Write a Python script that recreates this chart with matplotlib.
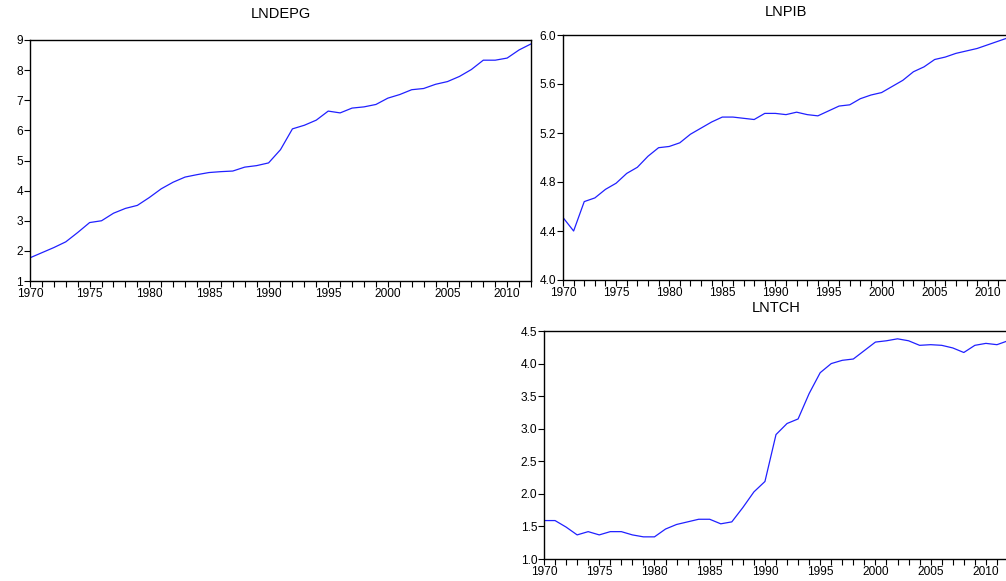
import numpy as np
import matplotlib.pyplot as plt
from matplotlib.ticker import MultipleLocator, FormatStrFormatter

plt.rcParams['font.family'] = ['Liberation Sans', 'DejaVu Sans']

years = list(range(1970, 2013))

lndepg = [1.77, 1.94, 2.11, 2.30, 2.61, 2.94, 3.00, 3.25, 3.41, 3.51,
          3.77, 4.06, 4.28, 4.45, 4.53, 4.60, 4.63, 4.65, 4.78, 4.83,
          4.92, 5.36, 6.05, 6.17, 6.34, 6.64, 6.58, 6.74, 6.78, 6.86,
          7.07, 7.19, 7.35, 7.39, 7.53, 7.62, 7.79, 8.02, 8.33, 8.33,
          8.40, 8.67, 8.87]

lnpib = [4.51, 4.40, 4.64, 4.67, 4.74, 4.79, 4.87, 4.92, 5.01, 5.08,
         5.09, 5.12, 5.19, 5.24, 5.29, 5.33, 5.33, 5.32, 5.31, 5.36,
         5.36, 5.35, 5.37, 5.35, 5.34, 5.38, 5.42, 5.43, 5.48, 5.51,
         5.53, 5.58, 5.63, 5.70, 5.74, 5.80, 5.82, 5.85, 5.87, 5.89,
         5.92, 5.95, 5.98]

lntch = [1.59, 1.59, 1.49, 1.37, 1.42, 1.37, 1.42, 1.42, 1.37, 1.34,
         1.34, 1.46, 1.53, 1.57, 1.61, 1.61, 1.54, 1.57, 1.79, 2.03,
         2.19, 2.91, 3.08, 3.15, 3.54, 3.86, 4.00, 4.05, 4.07, 4.20,
         4.33, 4.35, 4.38, 4.35, 4.28, 4.29, 4.28, 4.24, 4.17, 4.28,
         4.31, 4.29, 4.35]

W, H = 1006, 581
fig = plt.figure(figsize=(W / 100, H / 100), dpi=100)


def make_ax(left, right, top, bottom):
    return fig.add_axes([left / W, 1 - bottom / H, (right - left) / W, (bottom - top) / H])


def style(ax, title, vals, ylim, ystep, fmt, title_px):
    ax.plot(years, vals, color='#2020ff', lw=0.9)
    ax.set_xlim(1970, 2012)
    ax.set_ylim(*ylim)
    ax.xaxis.set_major_locator(MultipleLocator(5))
    ax.xaxis.set_minor_locator(MultipleLocator(1))
    ax.yaxis.set_major_locator(MultipleLocator(ystep))
    ax.yaxis.set_major_formatter(FormatStrFormatter(fmt))
    ax.tick_params(axis='both', direction='out', length=4, width=0.8,
                   labelsize=8.6, pad=1, colors='black')
    ax.tick_params(axis='x', which='minor', direction='out', length=4, width=0.8)
    for s in ax.spines.values():
        s.set_linewidth(1.0)
    pos = ax.get_position()
    fig.text((pos.x0 + pos.x1) / 2, 1 - title_px / H, title,
             ha='center', va='center', fontsize=10.5)


ax1 = make_ax(30, 531, 40, 281)
style(ax1, 'LNDEPG', lndepg, (1, 9), 1, '%d', 14.5)

ax2 = make_ax(563, 1009, 35, 280)
style(ax2, 'LNPIB', lnpib, (4.0, 6.0), 0.4, '%.1f', 12.5)

ax3 = make_ax(544, 1008, 331, 559)
style(ax3, 'LNTCH', lntch, (1.0, 4.5), 0.5, '%.1f', 307.5)

fig.savefig('out.png', dpi=100)
